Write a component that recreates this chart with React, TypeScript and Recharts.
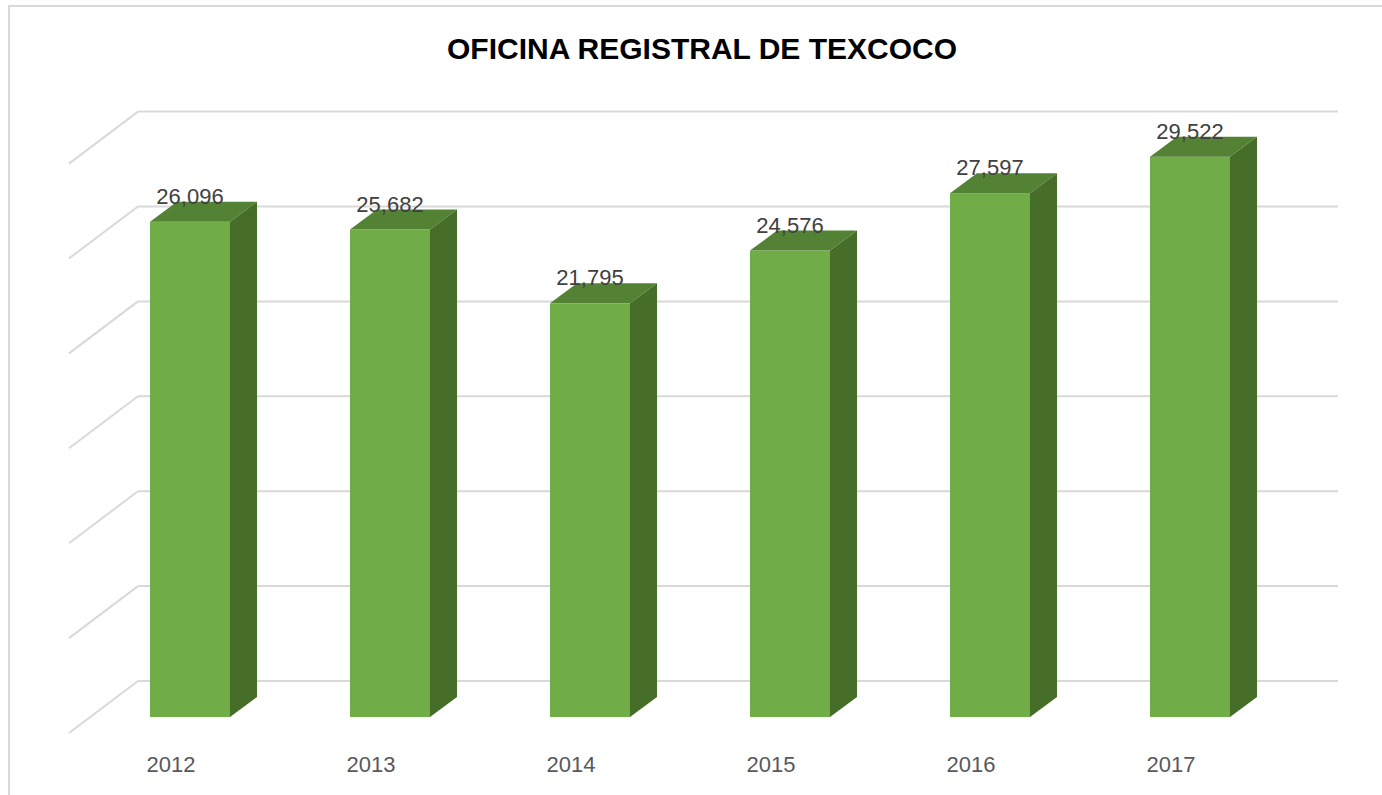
import { Bar, BarChart, CartesianGrid, LabelList, XAxis, YAxis } from "recharts";

const years = ["2012", "2013", "2014", "2015", "2016", "2017"];
const registros = [26096, 25682, 21795, 24576, 27597, 29522];
const yTicks = [0, 5000, 10000, 15000, 20000, 25000, 30000];

const data = years.map((year, i) => ({ year, value: registros[i] }));

// depth of the 3D extrusion (px)
const DX = 27;
const DY = 20;

function Box3D(props: any) {
  const { x, y, width, height } = props;
  if (height <= 0) return null;
  return (
    <g>
      <rect x={x} y={y} width={width} height={height} fill="#70ad47" />
      <polygon points={`${x},${y} ${x + DX},${y - DY} ${x + width + DX},${y - DY} ${x + width},${y}`} fill="#548235" />
      <polygon
        points={`${x + width},${y} ${x + width + DX},${y - DY} ${x + width + DX},${y + height - DY} ${x + width},${y + height}`}
        fill="#466e29"
      />
    </g>
  );
}

function WallLine(props: any) {
  const { x1, x2, y1 } = props;
  // back wall sits 36px up / 48px right of the bar front plane
  const bx = x1 + 48;
  const by = y1 - 36;
  return (
    <g key={props.key}>
      <line x1={bx} y1={by} x2={x2 + 48} y2={by} stroke="#d9d9d9" strokeWidth={2} />
      <line x1={bx} y1={by} x2={bx - 69} y2={by + 52} stroke="#d9d9d9" strokeWidth={2} />
    </g>
  );
}

function YearTick(props: any) {
  const { x, y, payload } = props;
  return (
    <text x={x - 19} y={y + 55} textAnchor="middle" fontSize={22} fill="#595959" fontFamily="Liberation Sans, Arial, sans-serif">
      {payload.value}
    </text>
  );
}

function ValueLabel(props: any) {
  const { x, y, width, value } = props;
  return (
    <text x={x + width / 2} y={y - 18} textAnchor="middle" fontSize={22} fill="#404040" fontFamily="Liberation Sans, Arial, sans-serif">
      {Number(value).toLocaleString("en-US")}
    </text>
  );
}

export default function App() {
  return (
    <div style={{ position: "absolute", left: 0, top: 0, width: 1382, height: 795, overflow: "hidden", background: "#fff" }}>
      <div
        style={{
          position: "absolute",
          left: 8,
          top: 5,
          width: 1400,
          height: 820,
          border: "2px solid #d9d9d9",
          boxSizing: "border-box",
        }}
      />
      <div
        style={{
          position: "absolute",
          left: 0,
          top: 32,
          width: 1404,
          textAlign: "center",
          fontFamily: "Liberation Sans, Arial, sans-serif",
          fontWeight: "bold",
          fontSize: 30,
          color: "#000",
        }}
      >
        OFICINA REGISTRAL DE TEXCOCO
      </div>
      <div style={{ position: "absolute", left: 0, top: 0 }}>
        <BarChart width={1382} height={795} data={data} margin={{ top: 147.6, right: 92, bottom: 48, left: 90 }} barCategoryGap="30%">
          <CartesianGrid vertical={false} horizontal={(p: any) => <WallLine {...p} />} />
          <XAxis dataKey="year" height={30} axisLine={false} tickLine={false} tickSize={0} tickMargin={0} tick={<YearTick />} />
          <YAxis hide domain={[0, 30000]} ticks={yTicks} />
          <Bar dataKey="value" shape={<Box3D />} isAnimationActive={false}>
            <LabelList dataKey="value" content={<ValueLabel />} />
          </Bar>
        </BarChart>
      </div>
    </div>
  );
}
